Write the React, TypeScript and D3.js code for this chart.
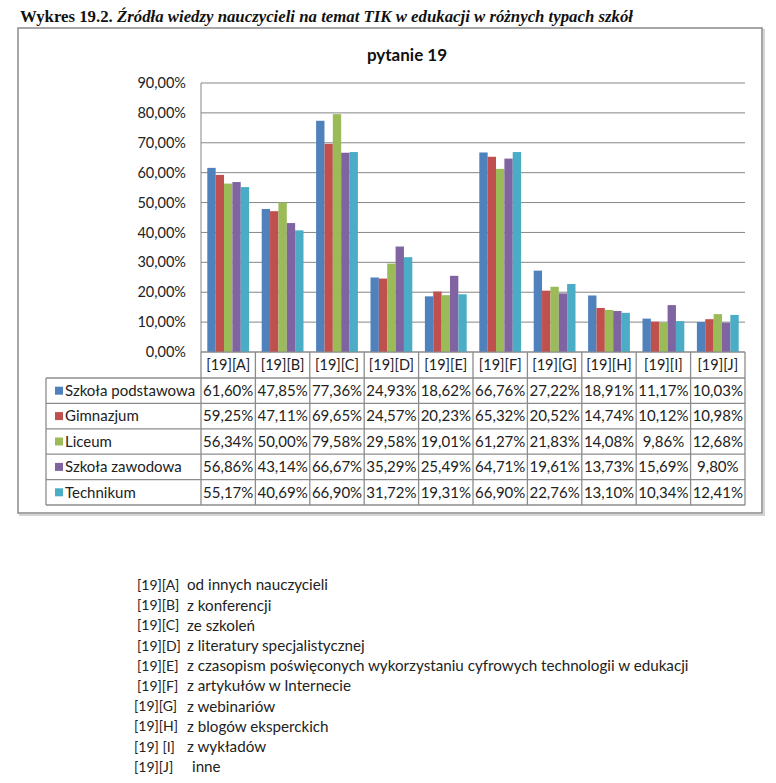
import React from "react";
import * as d3 from "d3";

const categories = ["[19][A]", "[19][B]", "[19][C]", "[19][D]", "[19][E]", "[19][F]", "[19][G]", "[19][H]", "[19][I]", "[19][J]"];
const seriesNames = ["Szkoła podstawowa", "Gimnazjum", "Liceum", "Szkoła zawodowa", "Technikum"];
const seriesColors = ["#4F81BD", "#C0504D", "#9BBB59", "#8064A2", "#4BACC6"];
const szkolaPodstawowa = [61.6, 47.85, 77.36, 24.93, 18.62, 66.76, 27.22, 18.91, 11.17, 10.03];
const gimnazjum = [59.25, 47.11, 69.65, 24.57, 20.23, 65.32, 20.52, 14.74, 10.12, 10.98];
const liceum = [56.34, 50.0, 79.58, 29.58, 19.01, 61.27, 21.83, 14.08, 9.86, 12.68];
const szkolaZawodowa = [56.86, 43.14, 66.67, 35.29, 25.49, 64.71, 19.61, 13.73, 15.69, 9.8];
const technikum = [55.17, 40.69, 66.9, 31.72, 19.31, 66.9, 22.76, 13.1, 10.34, 12.41];
const seriesValues = [szkolaPodstawowa, gimnazjum, liceum, szkolaZawodowa, technikum];
const yTicks = [0, 10, 20, 30, 40, 50, 60, 70, 80, 90];
const legendCodes = ["[19][A]", "[19][B]", "[19][C]", "[19][D]", "[19][E]", "[19][F]", "[19][G]", "[19][H]", "[19] [I]", "[19][J]"];
const legendDescriptions = [
  "od innych nauczycieli",
  "z konferencji",
  "ze szkoleń",
  "z literatury specjalistycznej",
  "z czasopism poświęconych wykorzystaniu cyfrowych technologii w edukacji",
  "z artykułów w Internecie",
  "z webinariów",
  "z blogów eksperckich",
  "z wykładów",
  "inne",
];

const fmt = (v: number) => v.toFixed(2).replace(".", ",") + "%";

export default function App() {
  const W = 776, H = 783;
  const plotLeft = 201, plotRight = 745, yTop = 83, yBottom = 352;
  const tableLeft = 46, headerBottom = 378, rowH = 25.4;
  const font = "Lato, 'Open Sans', sans-serif";
  const gridColor = "#868686";
  const tableColor = "#8c8c8c";

  const x = d3.scaleBand<string>().domain(categories).range([plotLeft, plotRight]).padding(0);
  const bw = x.bandwidth();
  const xi = d3.scaleBand<string>().domain(seriesNames).range([6.3, bw - 6.3]).padding(0);
  const y = d3.scaleLinear().domain([0, 90]).range([yBottom, yTop]);
  const tableBottom = headerBottom + rowH * seriesNames.length;

  return (
    <svg width={W} height={H} style={{ position: "absolute", left: 0, top: 0, background: "#fff" }}>
      <rect x={0} y={0} width={W} height={H} fill="#fff" />
      {/* page title */}
      <text x={20} y={22} fontFamily="'Liberation Serif', 'Times New Roman', serif" fontWeight="bold" fontSize={16.8} fill="#111">
        Wykres 19.2. <tspan fontStyle="italic">Źródła wiedzy nauczycieli na temat TIK w edukacji w różnych typach szkół</tspan>
      </text>
      {/* chart frame with shadow */}
      <rect x={20} y={30} width={744} height={485} fill="none" stroke="#d4d4d4" strokeWidth={2} />
      <rect x={18} y={28} width={744} height={485} fill="#fff" stroke="#8a8a8a" strokeWidth={1.5} />
      {/* chart title */}
      <text x={407} y={61} textAnchor="middle" fontFamily={font} fontWeight="bold" fontSize={17} fill="#111">
        pytanie 19
      </text>
      {/* gridlines */}
      {yTicks.map((t) => (
        <line key={"g" + t} x1={plotLeft} x2={plotRight} y1={y(t)} y2={y(t)} stroke={gridColor} strokeWidth={1} />
      ))}
      {yTicks.map((t) => (
        <text key={"yt" + t} x={186} y={y(t)} dy="0.35em" textAnchor="end" fontFamily={font} fontSize={14.5} fill="#222">
          {fmt(t)}
        </text>
      ))}
      <line x1={plotLeft} x2={plotLeft} y1={yTop} y2={yBottom} stroke={gridColor} />
      {/* bars */}
      {categories.map((c, ci) => (
        <g key={"c" + c} transform={`translate(${x(c)},0)`}>
          {seriesNames.map((s, si) => (
            <rect
              key={s}
              x={xi(s)}
              width={xi.bandwidth()}
              y={y(seriesValues[si][ci])}
              height={yBottom - y(seriesValues[si][ci])}
              fill={seriesColors[si]}
            />
          ))}
        </g>
      ))}
      {/* data table */}
      <g>
        <line x1={plotLeft} x2={plotRight} y1={yBottom} y2={yBottom} stroke={tableColor} />
        {d3.range(seriesNames.length + 1).map((i) => (
          <line
            key={"h" + i}
            x1={tableLeft}
            x2={plotRight}
            y1={headerBottom + i * rowH}
            y2={headerBottom + i * rowH}
            stroke={tableColor}
            strokeWidth={1.3}
          />
        ))}
        <line x1={tableLeft} x2={tableLeft} y1={headerBottom} y2={tableBottom} stroke={tableColor} strokeWidth={1.3} />
        {categories.map((c) => (
          <line key={"v" + c} x1={x(c)} x2={x(c)} y1={yBottom} y2={tableBottom} stroke={tableColor} strokeWidth={1.3} />
        ))}
        <line x1={plotRight} x2={plotRight} y1={yBottom} y2={tableBottom} stroke={tableColor} strokeWidth={1.3} />
        {categories.map((c) => (
          <text
            key={"hl" + c}
            x={(x(c) as number) + bw / 2}
            y={(yBottom + headerBottom) / 2}
            dy="0.35em"
            textAnchor="middle"
            fontFamily={font}
            fontSize={14.5}
            fill="#222"
          >
            {c}
          </text>
        ))}
        {seriesNames.map((s, si) => (
          <g key={"row" + s}>
            <rect x={55} y={headerBottom + si * rowH + rowH / 2 - 4} width={8} height={8} fill={seriesColors[si]} />
            <text x={65} y={headerBottom + si * rowH + rowH / 2} dy="0.35em" fontFamily={font} fontSize={15} fill="#222">
              {s}
            </text>
            {categories.map((c, ci) => (
              <text
                key={c}
                x={(x(c) as number) + bw / 2}
                y={headerBottom + si * rowH + rowH / 2}
                dy="0.35em"
                textAnchor="middle"
                fontFamily={font}
                fontSize={15}
                fill="#222"
              >
                {fmt(seriesValues[si][ci])}
              </text>
            ))}
          </g>
        ))}
      </g>
      {/* description list */}
      {legendCodes.map((code, i) => (
        <g key={"leg" + i}>
          <text x={i >= 6 ? 134 : 137} y={585 + i * 20.2} dy="0.35em" fontFamily={font} fontSize={14} fill="#222">
            {code}
          </text>
          <text x={i === 9 ? 192 : 187} y={585 + i * 20.2} dy="0.35em" fontFamily={font} fontSize={15.2} fill="#222">
            {legendDescriptions[i]}
          </text>
        </g>
      ))}
    </svg>
  );
}
